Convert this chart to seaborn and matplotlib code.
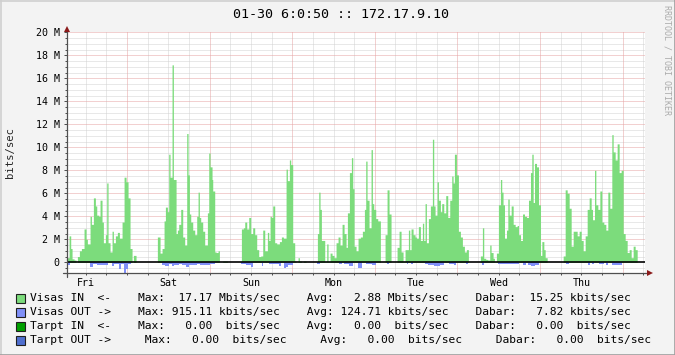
import numpy as np
import pandas as pd
import matplotlib
matplotlib.use("Agg")
import matplotlib.pyplot as plt
import seaborn as sns
from matplotlib.lines import Line2D
from matplotlib.patches import Rectangle

# ---------------- data ----------------
title = "01-30 6:0:50 :: 172.17.9.10"
ylabel = "bits/sec"
watermark = "RRDTOOL / TOBI OETIKER"
day_labels = ["Fri", "Sat", "Sun", "Mon", "Tue", "Wed", "Thu"]
day_label_hours = [12, 36, 60, 84, 108, 132, 156]      # noon of each day (hours since Fri 00:00)
midnight_hours = [24, 48, 72, 96, 120, 144, 168]
y_ticks = [0, 2, 4, 6, 8, 10, 12, 14, 16, 18, 20]
y_tick_labels = ["0", "2 M", "4 M", "6 M", "8 M", "10 M", "12 M", "14 M", "16 M", "18 M", "20 M"]
t_start, t_end = 6.57, 174.5

# Visas IN (Mbit/s), step series: value holds from in_hours[i] to in_hours[i+1]
in_hours = [6.29, 7.17, 7.65, 8.04, 8.62, 9.20, 9.59, 10.17, 10.75, 11.52,
            12.11, 12.49, 13.27, 13.66, 14.24, 14.82, 15.21, 15.79, 16.17, 16.75,
            17.14, 17.72, 18.11, 18.50, 19.08, 19.66, 20.05, 20.63, 21.21, 21.79,
            22.57, 23.15, 23.73, 24.31, 24.89, 25.47, 25.86, 26.63,
            32.83, 33.61, 34.19, 34.77, 35.16, 35.74, 36.12, 36.51, 37.09, 37.48,
            38.26, 38.64, 39.03, 39.61, 40.19, 40.77, 41.35, 41.74, 42.13, 42.52,
            43.10, 43.68, 44.26, 44.65, 45.03, 45.42, 46.00, 46.58, 47.36, 47.75,
            48.13, 48.71,
            48.91, 49.49, 49.88, 50.46, 50.85, 51.81, 53.17, 56.85, 57.24, 57.82,
            58.21, 58.79, 59.37, 59.95, 60.53, 61.11, 61.69, 62.27, 62.86, 63.44,
            64.02, 64.79, 65.18, 65.57, 65.95, 66.34, 66.92, 67.50, 68.28, 68.86,
            69.44, 70.22, 70.60, 71.18, 71.57, 72.15, 72.73, 73.12, 73.70, 74.09,
            74.67, 75.25, 76.03, 79.32, 79.71, 80.09, 80.48, 81.45, 82.03, 82.42,
            83.00, 83.58, 84.16, 84.74, 85.32, 85.90, 86.49, 87.07, 87.65, 88.04,
            88.62, 89.20, 89.59, 89.97, 90.55, 91.13,
            91.81, 92.39, 92.98, 93.36, 93.75, 94.33, 94.91, 95.30, 95.69, 96.27,
            96.85, 97.62, 98.98, 99.56, 100.14, 100.72, 102.47, 103.05, 103.63, 104.21,
            104.79, 105.76, 106.15, 106.53, 107.12, 107.70, 108.08, 108.66, 109.25, 109.83,
            110.21, 110.60, 110.99, 111.57, 112.15, 112.73, 113.12, 113.51, 114.09, 114.48,
            115.06, 115.44, 116.03, 116.61, 117.19, 117.77, 118.35, 118.74, 119.13, 119.71,
            120.29, 120.87, 121.45, 122.03, 122.61, 123.19, 126.68, 127.26, 127.65, 128.23,
            128.81, 129.39, 129.78, 130.36, 130.75, 131.33, 131.91, 132.49, 132.88, 133.26,
            133.68, 134.26, 134.65, 135.04, 135.62, 136.20, 136.78, 137.36, 137.75, 138.33,
            138.91, 139.49, 140.07, 140.65, 141.23, 141.62, 142.01, 142.40, 142.98, 143.56,
            144.14, 144.53, 145.11, 145.50, 146.08, 150.73, 151.31, 151.89, 152.47, 153.05,
            153.63, 154.21, 154.79, 155.37, 155.96, 156.54, 157.12, 157.70, 158.28, 158.86,
            159.25, 159.83, 160.22, 160.80, 161.38, 161.96, 162.54, 163.12, 163.70, 164.28,
            164.86, 165.25, 165.83, 166.41, 166.99, 167.57, 168.16, 168.74, 169.32, 169.90,
            170.48, 171.06, 171.64, 172.23]
in_mbps = [0.4, 2.3, 1.2, 0.3, 0.2, 0, 0.5, 1.0, 1.2, 2.9,
           2.0, 1.6, 4.0, 3.3, 5.6, 4.9, 4.1, 4.0, 5.4, 3.5,
           1.7, 2.4, 6.9, 1.7, 0.9, 2.7, 1.7, 2.3, 2.6, 2.1,
           3.5, 7.4, 7.0, 5.6, 1.2, 0, 0.6, 0,
           2.2, 0.8, 1.2, 3.6, 4.8, 4.4, 9.4, 7.4, 17.17, 7.2,
           2.5, 2.8, 3.3, 4.6, 2.2, 1.5, 11.2, 7.6, 4.2, 3.5,
           2.8, 2.4, 4.0, 6.1, 3.9, 3.5, 2.7, 1.5, 4.3, 9.5,
           8.3, 7.2,
           6.2, 0.9, 0.85, 1.0, 0, 0.1, 0, 0.1, 2.9, 3.0,
           3.5, 2.9, 3.9, 2.5, 3.0, 2.4, 1.1, 0.5, 0.55, 2.8,
           1.0, 2.6, 1.9, 4.0, 3.9, 4.9, 1.7, 1.6, 1.8, 2.2,
           2.1, 8.1, 7.1, 8.9, 8.5, 1.7, 0.1, 0, 0.4, 0.1,
           0, 0.1, 0, 2.5, 6.1, 4.6, 1.9, 0.05, 1.6, 0.05,
           0.8, 0.6, 0.4, 1.7, 2.2, 1.5, 3.3, 2.5, 1.3, 4.3,
           7.8, 9.1, 6.4, 1.4, 1.0, 2.1,
           2.2, 2.7, 4.6, 8.8, 5.4, 3.0, 9.8, 5.1, 4.6, 3.8,
           3.6, 0, 2.4, 6.3, 4.2, 0, 1.3, 2.7, 0.9, 0.05,
           1.1, 2.8, 1.1, 2.9, 2.4, 2.2, 2.1, 3.1, 1.9, 3.4,
           1.9, 5.1, 1.7, 3.8, 4.9, 10.7, 4.9, 4.1, 7.0, 5.4,
           4.4, 5.1, 4.3, 5.8, 3.9, 5.4, 7.5, 6.9, 9.4, 7.6,
           2.7, 2.2, 1.4, 0.9, 1.1, 0, 0.55, 3.0, 0.35, 0.25,
           0.2, 1.5, 0.85, 0.35, 0.05, 0.8, 5.0, 7.2, 6.1, 5.0,
           2.1, 2.8, 5.5, 4.1, 4.9, 3.3, 3.1, 3.2, 2.4, 1.9,
           4.2, 4.0, 3.9, 5.4, 7.8, 9.4, 5.2, 8.6, 8.3, 5.0,
           0.6, 1.8, 1.1, 0.4, 0, 0.55, 6.3, 6.0, 4.7, 1.4,
           2.7, 2.7, 2.3, 2.7, 1.9, 1.0, 2.3, 4.6, 5.6, 4.6,
           3.7, 8.0, 5.0, 4.6, 6.2, 3.5, 3.3, 2.8, 6.1, 4.7,
           11.1, 9.6, 8.9, 10.3, 7.8, 8.0, 2.5, 1.9, 0.85, 1.1,
           0.4, 1.4, 1.1, 0]

# Visas OUT (Mbit/s, drawn downward)
out_hours = [6.29, 6.88, 7.46, 13.27, 14.04, 15.21, 18.50, 19.66, 20.24, 21.60,
             22.18, 23.15, 23.73, 24.31, 25.28, 34.19, 35.16, 36.12, 37.09, 37.67,
             39.03, 40.00, 41.16, 41.93, 44.26, 45.23, 48.13, 49.49, 57.24, 58.59,
             59.95, 60.53, 63.24, 63.63, 65.18, 68.28, 68.86, 69.63, 70.22, 70.80,
             72.15, 79.13, 80.09, 85.71, 86.49, 87.07, 88.62, 89.78, 91.13, 92.20,
             93.36, 95.11, 96.27, 99.56, 100.14, 105.37, 105.76, 106.53, 107.12, 110.60,
             111.57, 113.31, 115.06, 116.22, 117.57, 119.13, 119.71, 122.61, 123.19, 127.26,
             127.65, 131.72, 137.75, 138.91, 139.88, 140.65, 141.43, 142.40, 143.56, 151.50,
             152.47, 157.89, 158.47, 159.05, 159.63, 161.19, 162.73, 163.31, 163.89, 164.86,
             167.77]
out_mbps = [0, -0.23, 0, -0.4, -0.15, -0.23, 0, -0.3, -0.15, -0.6,
            -0.15, -0.92, -0.6, -0.15, 0, -0.23, -0.32, -0.15, -0.32, -0.23,
            -0.15, -0.23, -0.38, -0.23, -0.15, -0.23, -0.15, 0, -0.15, -0.23,
            -0.38, 0, -0.3, 0, -0.15, -0.28, 0, -0.5, -0.38, -0.23,
            0, -0.15, 0, -0.15, 0, -0.15, -0.32, 0, -0.5, 0,
            -0.17, -0.23, 0, -0.15, 0, -0.15, 0, -0.15, 0, -0.17,
            -0.26, -0.32, -0.23, 0, -0.17, -0.23, 0, -0.15, 0, -0.23,
            0, -0.15, 0, -0.23, 0, -0.23, -0.32, -0.23, 0, -0.15,
            0, -0.23, 0, -0.15, 0, -0.15, 0, -0.23, 0, -0.23,
            0]

# legend
legend_names = ["Visas IN  <-", "Visas OUT ->", "Tarpt IN  <-", "Tarpt OUT ->"]
legend_colors = ["#7CDC7C", "#8090F8", "#00A000", "#4F6FCF"]
max_vals = [17.17, 915.11, 0.00, 0.00]
max_units = ["Mbits/sec", "kbits/sec", " bits/sec", " bits/sec"]
avg_vals = [2.88, 124.71, 0.00, 0.00]
avg_units = ["Mbits/sec", "kbits/sec", " bits/sec", " bits/sec"]
cur_vals = [15.25, 7.82, 0.00, 0.00]
cur_units = ["kbits/sec", "kbits/sec", " bits/sec", " bits/sec"]

assert len(in_hours) == len(in_mbps)
assert len(out_hours) == len(out_mbps)

# ---------------- figure ----------------
sns.set_theme(style="white")
plt.rcParams["font.family"] = ["DejaVu Sans Mono", "DejaVu Sans"]

W, H = 675, 355
fig = plt.figure(figsize=(W / 100, H / 100), dpi=100, facecolor="#F3F3F3")


def fx(x):
    return x / W


def fy(y):
    return 1 - y / H


ax = fig.add_axes([fx(67), fy(273), (645 - 67) / W, (273 - 32.3) / H])
ax.set_facecolor("white")

# grid lines
dot = (0, (1, 1))
minor_col, major_col = "#D2D2D2", "#E6A3A3"
for v in np.arange(-0.5, 20.01, 0.5):
    if abs(v / 2 - round(v / 2)) > 1e-6:
        ax.axhline(v, color=minor_col, lw=0.72, ls=dot, zorder=0.5)
for v in y_ticks[1:]:
    ax.axhline(v, color=major_col, lw=0.72, ls=dot, zorder=0.6)
for h in np.arange(12, 175, 6):
    if h not in midnight_hours:
        ax.axvline(h, color=minor_col, lw=0.72, ls=dot, zorder=0.5)
for h in midnight_hours:
    ax.axvline(h, color=major_col, lw=0.72, ls=dot, zorder=0.6)

# data areas drawn with seaborn (one observation per step bin, weighted by its value)
in_edges = in_hours + [t_end]
out_edges = out_hours + [t_end]
df_in = pd.DataFrame({"t": in_hours, "v": in_mbps})
df_out = pd.DataFrame({"t": out_hours, "v": out_mbps})
sns.histplot(data=df_in, x="t", weights="v", bins=in_edges, element="step",
             fill=True, color=legend_colors[0], alpha=1, linewidth=0, ax=ax, zorder=2)
sns.histplot(data=df_out, x="t", weights="v", bins=out_edges, element="step",
             fill=True, color=legend_colors[1], alpha=1, linewidth=0, ax=ax, zorder=2)

ax.axhline(0, color="black", lw=1.2, zorder=3)

ax.set_xlim(t_start, t_end)
ax.set_ylim(-0.93, 20)
for s in ax.spines.values():
    s.set_visible(False)
ax.set_xlabel("")
ax.set_ylabel("")

ax.set_yticks(y_ticks)
ax.set_yticklabels(y_tick_labels)
ax.set_yticks(np.arange(-0.5, 20.01, 0.5), minor=True)
ax.set_xticks(day_label_hours)
ax.set_xticklabels(day_labels)
ax.set_xticks(np.arange(12, 175, 6), minor=True)
ax.tick_params(axis="y", which="major", direction="out", length=2.2, width=0.72,
               color="#505050", pad=3.0, labelsize=7.2, labelcolor="black", left=True)
ax.tick_params(axis="y", which="minor", direction="out", length=1.4, width=0.72,
               color="#505050", left=True)
ax.tick_params(axis="x", which="major", direction="out", length=1.4, width=0.72,
               color="#505050", pad=2.0, labelsize=7.2, labelcolor="black", bottom=True)
ax.tick_params(axis="x", which="minor", direction="out", length=1.4, width=0.72,
               color="#505050", bottom=True)

# axis lines with arrows
axis_col, arrow_col = "#505050", "#8B1A1A"
fig.add_artist(Line2D([fx(67), fx(67)], [fy(277), fy(30)], color=axis_col, lw=0.9))
fig.add_artist(Line2D([fx(63), fx(648)], [fy(273), fy(273)], color=axis_col, lw=0.9))
fig.add_artist(Line2D([fx(67)], [fy(29)], marker="^", markersize=4.5, color=arrow_col,
                      markeredgewidth=0))
fig.add_artist(Line2D([fx(650)], [fy(273)], marker=">", markersize=4.5, color=arrow_col,
                      markeredgewidth=0))

# texts
fig.text(fx(341), fy(14), title, ha="center", va="center", fontsize=9.6, color="black")
fig.text(fx(10), fy(153), ylabel, ha="center", va="center", rotation=90, fontsize=7.6)
fig.text(fx(667.5), fy(60), watermark, ha="center", va="center", rotation=270,
         fontsize=6, color="#ABABAB")

# legend rows
row_y = [298, 312, 326, 340]
for i in range(4):
    if i < 3:
        s = (f"{legend_names[i]:<16}Max:{max_vals[i]:7.2f} {max_units[i]}    "
             f"Avg:{avg_vals[i]:7.2f} {avg_units[i]}    "
             f"Dabar:{cur_vals[i]:7.2f} {cur_units[i]}")
    else:
        s = (f"{legend_names[i]:<17}Max:{max_vals[i]:7.2f} {max_units[i]}     "
             f"Avg:{avg_vals[i]:7.2f} {avg_units[i]}     "
             f"Dabar:{cur_vals[i]:7.2f} {cur_units[i]}")
    fig.text(fx(30), fy(row_y[i]), s, ha="left", va="center", fontsize=8.1, color="black")
    fig.add_artist(Rectangle((fx(16), fy(row_y[i] + 4.5)), 9 / W, 9 / H,
                             facecolor=legend_colors[i], edgecolor="#202020", lw=0.8))

# frame
fig.add_artist(Line2D([0, 1], [fy(0.5), fy(0.5)], color="#CFCFCF", lw=1.2))
fig.add_artist(Line2D([fx(0.5), fx(0.5)], [0, 1], color="#CFCFCF", lw=1.2))
fig.add_artist(Line2D([0, 1], [fy(354.5), fy(354.5)], color="#9E9E9E", lw=1.2))
fig.add_artist(Line2D([fx(674.5), fx(674.5)], [0, 1], color="#9E9E9E", lw=1.2))

fig.savefig("out.png", dpi=100, facecolor=fig.get_facecolor())
